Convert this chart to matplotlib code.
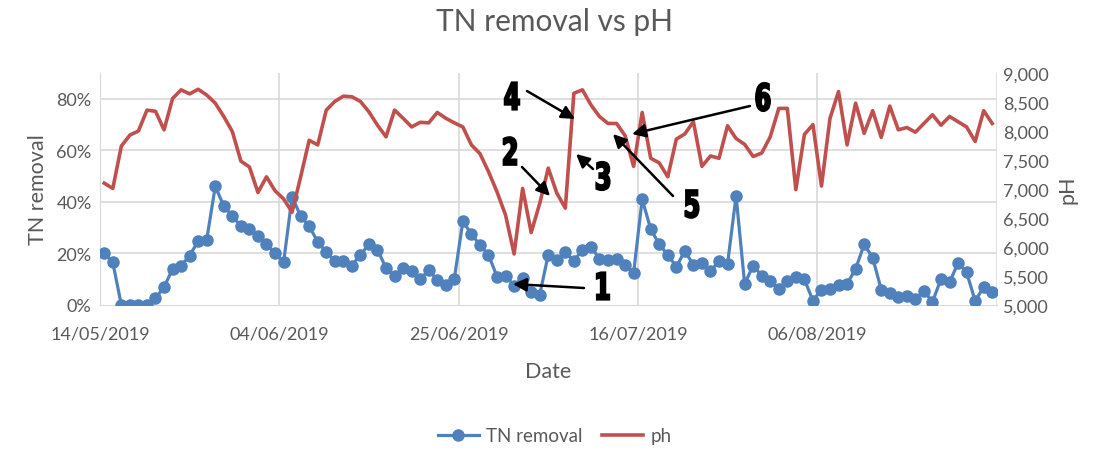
import matplotlib
matplotlib.use("Agg")
from matplotlib import pyplot as plt
import matplotlib.dates as mdates
from matplotlib.textpath import TextPath
from matplotlib.patches import PathPatch
from matplotlib.font_manager import FontProperties
from matplotlib.transforms import Affine2D, IdentityTransform
import pandas as pd
import numpy as np

# TN removal (%) and pH, one reading per day starting 14/05/2019
tn_removal = [20, 16.5, 0, 0, 0, 0, 2.6, 6.9, 14, 15.2,
              19.2, 24.8, 25.4, 46, 38.4, 34.5, 30.6, 29.3, 26.7, 23.5,
              20.2, 16.5, 42, 34.5, 30.6, 24.5, 20.5, 17.2, 17.2, 15.3,
              19.5, 23.5, 21.5, 14.3, 11.1, 14.3, 13, 10, 13.5, 9.8,
              7.6, 10.2, 32.5, 27.5, 23.3, 19.5, 11, 11.2, 7.5, 10.5,
              5, 4, 19.5, 17.5, 20.5, 17, 21.5, 22.5, 18, 17.5,
              17.8, 15.5, 12.5, 41, 29.5, 23.5, 19.5, 14.8, 21, 15.5,
              16.3, 13, 17.2, 16, 42.3, 8.2, 15.3, 11.4, 9.5, 6.2,
              9.5, 11, 9.9, 1.7, 6, 6.2, 7.8, 8.2, 14, 23.5,
              18.3, 6, 4.8, 3, 3.4, 2.5, 5.4, 1.2, 10.1, 8.8,
              16.3, 12.7, 1.6, 6.9, 5]
ph = [7.10, 7.01, 7.74, 7.93, 8.00, 8.36, 8.34, 8.02, 8.56, 8.71,
      8.64, 8.72, 8.62, 8.48, 8.25, 7.99, 7.48, 7.38, 6.94, 7.21,
      6.97, 6.83, 6.60, 7.21, 7.84, 7.76, 8.36, 8.51, 8.60, 8.59,
      8.51, 8.33, 8.10, 7.90, 8.36, 8.22, 8.07, 8.15, 8.14, 8.32,
      8.22, 8.14, 8.07, 7.76, 7.61, 7.30, 6.95, 6.55, 5.88, 7.01,
      6.25, 6.75, 7.36, 6.93, 6.67, 8.65, 8.71, 8.45, 8.25, 8.13,
      8.13, 7.92, 7.39, 8.32, 7.53, 7.45, 7.21, 7.86, 7.95, 8.16,
      7.39, 7.57, 7.53, 8.09, 7.87, 7.77, 7.56, 7.62, 7.90, 8.39,
      8.39, 6.99, 7.94, 8.11, 7.05, 8.22, 8.68, 7.76, 8.48, 7.96,
      8.35, 7.89, 8.43, 8.02, 8.06, 7.98, 8.13, 8.28, 8.10, 8.25,
      8.16, 8.07, 7.82, 8.35, 8.13]
dates = pd.date_range("2019-05-14", periods=len(tn_removal), freq="D")
tick_dates = ["2019-05-14", "2019-06-04", "2019-06-25", "2019-07-16", "2019-08-06"]
axis_end = "2019-08-27"
ph_ticks = [5, 5.5, 6, 6.5, 7, 7.5, 8, 8.5, 9]
tn_ticks = [0, 20, 40, 60, 80]

# callouts: label, arrow tail and head, text position (figure pixels from top-left)
callouts = [("1", (584, 289), (513, 285), (603, 287)),
            ("2", (522, 168), (550, 197), (510, 152)),
            ("3", (593, 170), (576, 155), (603, 177)),
            ("4", (527, 92), (575, 120), (512, 97)),
            ("5", (673, 197), (613, 135), (692, 205)),
            ("6", (750, 107), (632, 135), (763, 98))]

W, H = 1109, 452
blue = "#4F81BD"
red = "#C0504D"
grey = "#595959"
grid = "#D9D9D9"
plt.rcParams["font.family"] = ["Lato", "DejaVu Sans"]

fig = plt.figure(figsize=(W / 100, H / 100), dpi=100)
ax = fig.add_axes([100 / W, 1 - 306 / H, 896.5 / W, 232 / H])
ax2 = ax.twinx()

x = mdates.date2num(dates) + 0.5
ax.plot(x, np.array(tn_removal) / 100, color=blue, lw=2.3, marker="o",
        ms=8, label="TN removal", zorder=3)
ax2.plot(x, ph, color=red, lw=2.6, label="ph", zorder=3)

ax.set_xlim(mdates.datestr2num("2019-05-14"), mdates.datestr2num(axis_end))
ax.set_ylim(0, 0.9)
ax2.set_ylim(5, 9)

ticks = [mdates.datestr2num(d) for d in tick_dates]
ax.set_xticks(ticks)
ax.set_xticklabels([pd.Timestamp(d).strftime("%d/%m/%Y") for d in tick_dates])
ax.set_yticks([t / 100 for t in tn_ticks])
ax.set_yticklabels([f"{t}%" for t in tn_ticks])
ax2.set_yticks(ph_ticks)
ax2.set_yticklabels([f"{v:,.3f}".replace(".", ",") for v in ph_ticks])

for t in ticks[1:] + [mdates.datestr2num(axis_end)]:
    ax.axvline(t, color=grid, lw=1.2, zorder=0)
for t in tn_ticks[1:]:
    ax.axhline(t / 100, color=grid, lw=1.2, zorder=0)

for a in (ax, ax2):
    for s in a.spines.values():
        s.set_visible(False)
    a.tick_params(length=0, labelsize=13, colors=grey)
ax.spines["bottom"].set_visible(True)
ax.spines["bottom"].set_color(grid)
ax.spines["left"].set_visible(True)
ax.spines["left"].set_color(grid)
ax.tick_params(axis="x", pad=15)
ax.tick_params(axis="y", pad=6)
ax2.tick_params(axis="y", pad=5)

ax.set_xlabel("Date", fontsize=15.5, color=grey, labelpad=14)
ax.set_ylabel("TN removal", fontsize=15.5, color=grey, labelpad=6)
ax2.set_ylabel("pH", fontsize=15.5, color=grey, labelpad=6)
fig.text(0.5, 1 - 22 / H, "TN removal vs pH", ha="center", va="center",
         fontsize=21.5, color=grey)

# narrow, heavy digits for the callouts
digit_font = FontProperties(family="DejaVu Sans", weight="bold")
for label, tail, head, txt in callouts:
    ax2.annotate("", xy=(head[0], H - head[1]), xytext=(tail[0], H - tail[1]),
                 xycoords="figure pixels", textcoords="figure pixels",
                 arrowprops=dict(arrowstyle="-|>", color="black", lw=1.8,
                                 mutation_scale=20, shrinkA=0, shrinkB=0),
                 zorder=5)
    tp = TextPath((0, 0), label, size=37, prop=digit_font)
    ext = tp.get_extents()
    cx, cy = (ext.x0 + ext.x1) / 2, (ext.y0 + ext.y1) / 2
    tr = Affine2D().translate(-cx, -cy).scale(0.64, 1.0).translate(txt[0], H - txt[1])
    fig.add_artist(PathPatch(tr.transform_path(tp), transform=IdentityTransform(),
                             facecolor="black", edgecolor="black", lw=1.6, zorder=6))

h1, l1 = ax.get_legend_handles_labels()
h2, l2 = ax2.get_legend_handles_labels()
fig.legend(h1 + h2, l1 + l2, loc="center", bbox_to_anchor=(0.5, 1 - 437 / H),
           ncol=2, frameon=False, fontsize=13.5, labelcolor=grey,
           handlelength=2.2, columnspacing=1.0, handletextpad=0.4)

fig.savefig("out.png", dpi=100)
